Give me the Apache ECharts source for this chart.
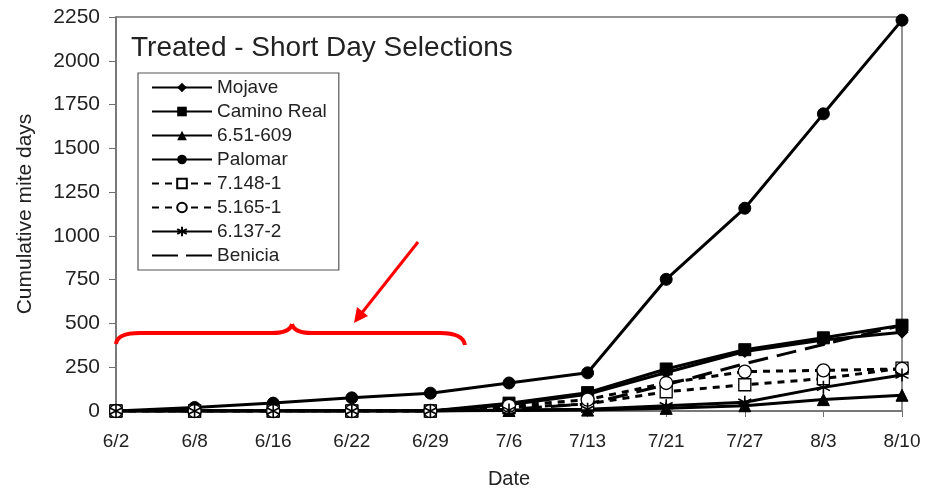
<!DOCTYPE html>
<html>
<head>
<meta charset="utf-8">
<script src="https://cdn.jsdelivr.net/npm/echarts@6/dist/echarts.min.js"></script>
<style>
  html, body { margin: 0; padding: 0; background: #fff; }
  #chart { width: 931px; height: 488px; }
</style>
</head>
<body>
<div id="chart"></div>
<script>
const dates = ["6/2", "6/8", "6/16", "6/22", "6/29", "7/6", "7/13", "7/21", "7/27", "8/3", "8/10"];

const mojave = [0, 0, 0, 0, 0, 35, 95, 220, 340, 405, 450];
const caminoReal = [0, 0, 0, 0, 0, 45, 105, 240, 350, 418, 490];
const line651609 = [0, 0, 0, 0, 0, 3, 5, 15, 30, 65, 90];
const palomar = [0, 20, 45, 75, 102, 160, 218, 752, 1158, 1697, 2232];
const line71481 = [0, 0, 0, 0, 0, 20, 40, 110, 150, 185, 245];
const line51651 = [0, 0, 0, 0, 0, 30, 65, 160, 225, 232, 240];
const line61372 = [0, 0, 0, 0, 0, 5, 10, 30, 50, 135, 205];
const benicia = [0, 0, 0, 0, 0, 10, 40, 150, 270, 380, 490];

const yTicks = [0, 250, 500, 750, 1000, 1250, 1500, 1750, 2000, 2250];

const asterisk = "path://M0,-6L0,6M-5.2,-3L5.2,3M-5.2,3L5.2,-3";
const font = "Liberation Sans, Arial, sans-serif";

function mk(name, data, symbol, opts) {
  opts = opts || {};
  return {
    name: name,
    type: "line",
    data: data,
    symbol: symbol,
    symbolSize: opts.size || 10,
    showSymbol: true,
    lineStyle: { color: "#000", width: 3, type: opts.dash || "solid" },
    itemStyle: opts.itemStyle || { color: "#000", borderColor: "#000" },
    animation: false,
  };
}

// red hand-drawn annotation (brace + arrow)
const red = { stroke: "#f00", lineWidth: 4, fill: "none" };
const annot = [
  { type: "bezierCurve", shape: { x1: 116, y1: 344, cpx1: 117, cpy1: 333, x2: 140, y2: 333 }, style: red },
  { type: "line", shape: { x1: 140, y1: 333, x2: 272, y2: 333 }, style: red },
  { type: "bezierCurve", shape: { x1: 272, y1: 333, cpx1: 290, cpy1: 333, x2: 292, y2: 324 }, style: red },
  { type: "bezierCurve", shape: { x1: 292, y1: 324, cpx1: 294, cpy1: 333, x2: 312, y2: 333 }, style: red },
  { type: "line", shape: { x1: 312, y1: 333, x2: 440, y2: 333 }, style: red },
  { type: "bezierCurve", shape: { x1: 440, y1: 333, cpx1: 463, cpy1: 333, x2: 465, y2: 345 }, style: red },
  { type: "line", shape: { x1: 418, y1: 242, x2: 361, y2: 314 }, style: { stroke: "#f00", lineWidth: 3 } },
  { type: "polygon", shape: { points: [[354, 323], [368, 316], [357, 307]] }, style: { fill: "#f00" } },
].map((g) => Object.assign(g, { z: 100 }));

const chart = echarts.init(document.getElementById("chart"), null, { renderer: "canvas" });

chart.setOption({
  backgroundColor: "#fff",
  textStyle: { fontFamily: font },
  title: {
    text: "Treated - Short Day Selections",
    left: 126,
    top: 29,
    textStyle: { fontSize: 28, fontWeight: "normal", color: "#222", fontFamily: font },
  },
  legend: {
    orient: "vertical",
    left: 138,
    top: 73,
    padding: [5, 12, 5, 13],
    itemGap: 5,
    itemWidth: 60,
    itemHeight: 12,
    borderColor: "#555",
    borderWidth: 1.2,
    textStyle: { fontSize: 19, color: "#222", fontFamily: font },
    data: [
      "Mojave", "Camino Real", "6.51-609", "Palomar", "7.148-1", "5.165-1", "6.137-2",
      {
        name: "Benicia",
        itemStyle: { color: "transparent", borderColor: "transparent" },
        lineStyle: { type: [26, 8] },
      },
    ],
  },
  grid: {
    left: 116,
    right: 29,
    top: 17,
    bottom: 77,
    outerBoundsMode: "none",
    containLabel: false,
    show: true,
    borderColor: "#707070",
    borderWidth: 1.5,
  },
  xAxis: {
    type: "category",
    data: dates,
    boundaryGap: false,
    name: "Date",
    nameLocation: "middle",
    nameGap: 58,
    nameTextStyle: { fontSize: 20, color: "#222" },
    axisLine: { lineStyle: { color: "#707070", width: 1.5 } },
    axisTick: { show: true, alignWithLabel: true, length: 6, lineStyle: { color: "#707070" } },
    axisLabel: { fontSize: 19, color: "#222", margin: 21 },
    splitLine: { show: false },
  },
  yAxis: {
    type: "value",
    min: yTicks[0],
    max: yTicks[yTicks.length - 1],
    interval: 250,
    name: "Cumulative mite days",
    nameLocation: "middle",
    nameGap: 80,
    nameTextStyle: { fontSize: 21, color: "#222" },
    axisLine: { show: true, lineStyle: { color: "#707070", width: 1.5 } },
    axisTick: { show: true, length: 7, lineStyle: { color: "#707070" } },
    axisLabel: { fontSize: 21, color: "#222", margin: 16, formatter: (v) => String(v) },
    splitLine: { show: false },
  },
  graphic: annot,
  series: [
    mk("Mojave", mojave, "diamond", { size: 12 }),
    mk("Camino Real", caminoReal, "rect", { size: 12 }),
    mk("6.51-609", line651609, "triangle", { size: 12 }),
    mk("Palomar", palomar, "circle", { size: 12 }),
    mk("7.148-1", line71481, "rect", {
      size: 12,
      dash: [7, 6],
      itemStyle: { color: "#fff", borderColor: "#000", borderWidth: 1.3 },
    }),
    mk("5.165-1", line51651, "circle", {
      size: 13,
      dash: [7, 6],
      itemStyle: { color: "#fff", borderColor: "#000", borderWidth: 1.3 },
    }),
    mk("6.137-2", line61372, asterisk, {
      size: 13,
      itemStyle: { color: "none", borderColor: "#000", borderWidth: 1.6 },
    }),
    mk("Benicia", benicia, "circle", {
      size: 0,
      dash: [20, 9],
      itemStyle: { color: "transparent", borderColor: "transparent" },
    }),
  ],
});
</script>
</body>
</html>
